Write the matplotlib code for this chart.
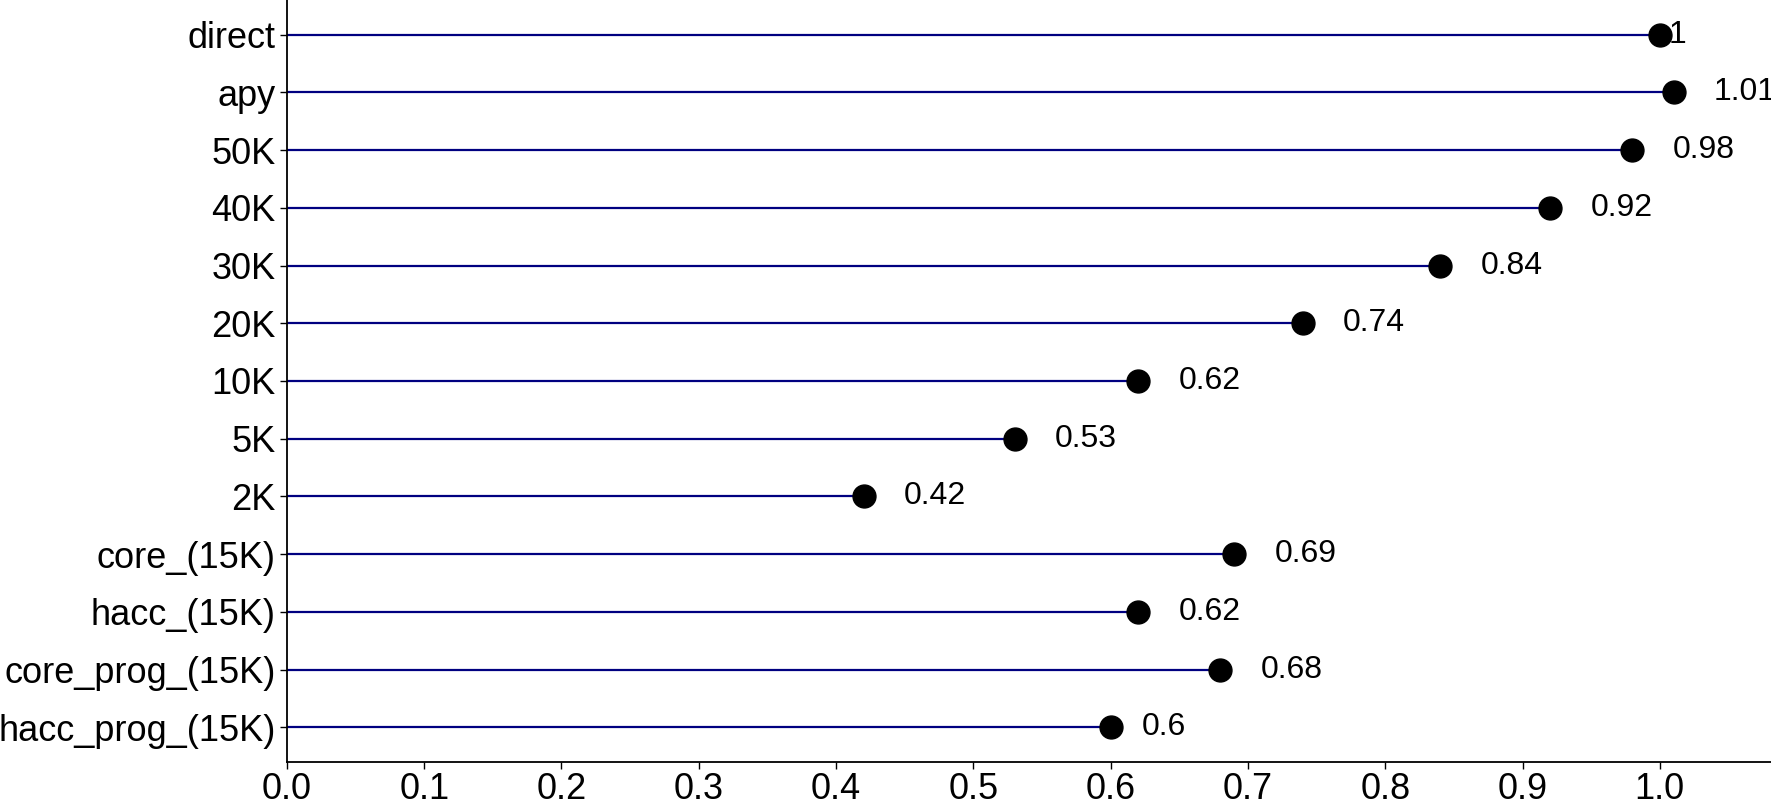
import matplotlib
matplotlib.use("Agg")
import matplotlib.pyplot as plt
import numpy as np

plt.rcParams['font.family'] = ['Liberation Sans', 'DejaVu Sans']

# categories from top to bottom
categories = ["direct", "apy", "50K", "40K", "30K", "20K", "10K", "5K", "2K",
              "core_(15K)", "hacc_(15K)", "core_prog_(15K)", "hacc_prog_(15K)"]
values = [1.0, 1.01, 0.98, 0.92, 0.84, 0.74, 0.62, 0.53, 0.42,
          0.69, 0.62, 0.68, 0.6]
labels = ["1", "1.01", "0.98", "0.92", "0.84", "0.74", "0.62", "0.53", "0.42",
          "0.69", "0.62", "0.68", "0.6"]
xticks = [0.0, 0.1, 0.2, 0.3, 0.4, 0.5, 0.6, 0.7, 0.8, 0.9, 1.0]

fig = plt.figure(figsize=(17.71, 8), dpi=100)
ax = fig.add_axes([0.162, 0.0475, 0.838, 0.9525])

y = np.arange(len(categories))[::-1]
ax.hlines(y, 0, values, color="#000080", lw=1.6, zorder=1)
ax.plot(values, y, "o", color="black", ms=16.5, zorder=2)
for v, yy, lbl in zip(values, y, labels):
    ax.text(v + 0.013 * len(lbl), yy, lbl, ha="center", va="center", fontsize=23)

ax.set_xlim(0, 1.081)
ax.set_ylim(-0.6, len(categories) - 0.4)
ax.set_yticks(y)
ax.set_yticklabels(categories, fontsize=26)
ax.set_xticks(xticks)
ax.set_xticklabels(["%.1f" % t for t in xticks], fontsize=26)
ax.tick_params(axis="both", length=5, width=1, color="black")
ax.tick_params(axis="y", pad=3)
ax.tick_params(axis="x", pad=2)
ax.spines["top"].set_visible(False)
ax.spines["right"].set_visible(False)
ax.spines["left"].set_linewidth(1.3)
ax.spines["bottom"].set_linewidth(1.3)

fig.savefig("out.png", dpi=100)
